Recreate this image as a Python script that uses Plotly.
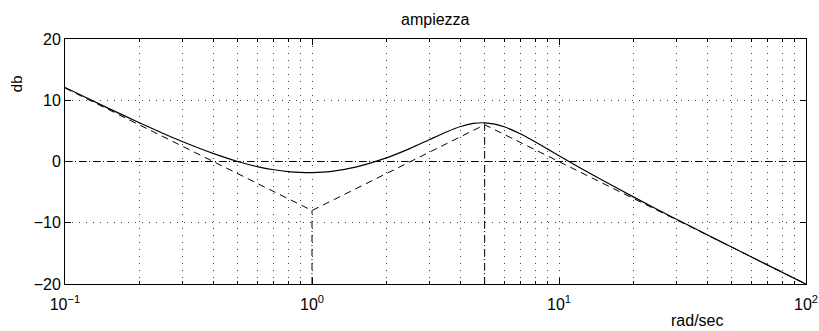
import plotly.graph_objects as go

# Frequencies (rad/sec) and magnitude (dB) of the exact curve
freq = [0.1, 0.15, 0.2, 0.25, 0.3, 0.4, 0.5, 0.6, 0.7, 0.8, 0.9, 1.0, 1.2, 1.5,
        2.0, 2.5, 3.0, 3.5, 4.0, 4.5, 5.0, 5.5, 6.0, 7.0, 8.0, 9.0, 10, 12, 15,
        20, 30, 40, 50, 70, 100]
mag_db = [12.09, 8.68, 6.33, 4.58, 3.22, 1.28, 0.00, -0.83, -1.35, -1.66, -1.79,
          -1.81, -1.60, -0.91, 0.59, 2.15, 3.60, 4.81, 5.71, 6.21, 6.32, 6.11,
          5.67, 4.48, 3.21, 2.02, 0.95, -0.89, -3.07, -5.78, -9.46, -12.01,
          -13.97, -16.92, -20.03]

# Asymptotic (straight-line) approximation
asym_freq = [0.1, 1, 5, 100]
asym_db = [12, -8, 6, -20]

# Break frequencies and their asymptote values (dash-dot markers)
break_freq = [1, 5]
break_db = [-8, 6]

x_range = [0.1, 100]
y_range = [-20, 20]

x_major = [0.1, 1, 10, 100]
x_major_text = ["10<sup>−1</sup>", "10<sup>0</sup>", "10<sup>1</sup>", "10<sup>2</sup>"]
x_minor = [m * d for d in (0.1, 1, 10) for m in range(2, 10)]
y_ticks = [-20, -10, 0, 10, 20]
y_tick_text = ["−20", "−10", "0", "10", "20"]

title_text = "ampiezza"
y_label = "db"
x_label = "rad/sec"

FONT = "Liberation Sans, Arial, Helvetica, sans-serif"

fig = go.Figure()

# zero dB dash-dot line
fig.add_trace(go.Scatter(x=x_range, y=[0, 0], mode="lines",
                         line=dict(color="black", width=1, dash="7px,3px,1px,3px"),
                         hoverinfo="skip", showlegend=False))
# vertical dash-dot lines at break frequencies
for bf, bd in zip(break_freq, break_db):
    fig.add_trace(go.Scatter(x=[bf, bf], y=[y_range[0], bd], mode="lines",
                             line=dict(color="black", width=1, dash="7px,3px,1px,3px"),
                             hoverinfo="skip", showlegend=False))

# asymptotes
fig.add_trace(go.Scatter(x=asym_freq, y=asym_db, mode="lines",
                         line=dict(color="black", width=1, dash="7px,5px"),
                         showlegend=False))
# exact magnitude
fig.add_trace(go.Scatter(x=freq, y=mag_db, mode="lines",
                         line=dict(color="black", width=1.2, shape="spline", smoothing=0.6),
                         showlegend=False))

fig.update_xaxes(type="log", range=[-1, 2], tickvals=x_major, ticktext=x_major_text,
                 automargin=False, ticklabelstandoff=6, ticklabeloverflow="allow",
                 ticks="inside", ticklen=6, tickcolor="black", mirror="ticks",
                 showline=True, linecolor="black", linewidth=1,
                 showgrid=True, gridcolor="#444", gridwidth=1, griddash="1px,6px",
                 zeroline=False,
                 tickfont=dict(family=FONT, size=16, color="black"),
                 minor=dict(tickvals=x_minor, ticks="inside", ticklen=3,
                            tickcolor="black", showgrid=True, gridcolor="#444",
                            gridwidth=1, griddash="1px,6px"))
fig.update_yaxes(range=y_range, tickvals=y_ticks, ticktext=y_tick_text,
                 automargin=False,
                 ticks="inside", ticklen=6, tickcolor="black", mirror="ticks",
                 showline=True, linecolor="black", linewidth=1,
                 showgrid=True, gridcolor="#444", gridwidth=1, griddash="1px,6px",
                 zeroline=False,
                 tickfont=dict(family=FONT, size=16, color="black"))

fig.update_layout(
    width=819, height=331,
    margin=dict(l=65, r=13, t=39, b=47, autoexpand=False),
    plot_bgcolor="white", paper_bgcolor="white",
    font=dict(family=FONT, size=16, color="black"),
    hovermode=False,
    annotations=[
        dict(text=title_text, xref="paper", yref="paper", x=0.5, y=1.078,
             xanchor="center", yanchor="middle", showarrow=False, borderpad=0,
             font=dict(family=FONT, size=16)),
        dict(text=y_label, xref="paper", yref="paper", x=-0.066, y=0.816,
             xanchor="center", yanchor="middle", showarrow=False, textangle=-90,
             borderpad=0, font=dict(family=FONT, size=15)),
        dict(text=x_label, xref="paper", yref="paper", x=0.853, y=-0.149,
             xanchor="center", yanchor="middle", showarrow=False, borderpad=0,
             font=dict(family=FONT, size=16)),
    ],
)

fig.write_html(
    "out.html",
    config={"displayModeBar": False},
    post_script="document.body.style.margin='0';document.body.style.overflow='hidden';",
)
